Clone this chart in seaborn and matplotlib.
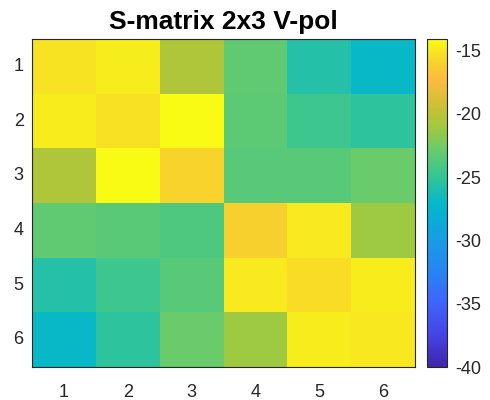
import numpy as np
import pandas as pd
import matplotlib
matplotlib.use("Agg")
import matplotlib.pyplot as plt
from matplotlib.colors import LinearSegmentedColormap
import seaborn as sns

# S-parameter magnitudes (dB), 6x6 port matrix
row_labels = ["1", "2", "3", "4", "5", "6"]
col_labels = ["1", "2", "3", "4", "5", "6"]
row1 = [-15.2, -14.8, -20.5, -23.3, -25.7, -27.0]
row2 = [-14.8, -15.3, -14.1, -23.4, -24.6, -25.3]
row3 = [-20.5, -14.1, -15.9, -23.6, -23.6, -22.9]
row4 = [-23.3, -23.5, -23.9, -16.1, -14.9, -21.1]
row5 = [-25.7, -24.6, -23.6, -14.9, -15.5, -14.8]
row6 = [-27.0, -25.3, -22.9, -21.1, -14.8, -15.0]
cbar_ticks = [-15, -20, -25, -30, -35, -40]

data = pd.DataFrame([row1, row2, row3, row4, row5, row6],
                    index=row_labels, columns=col_labels)

# parula-like colormap
parula_pts = [
    (0.000, (0.2422, 0.1504, 0.6603)),
    (0.100, (0.2750, 0.2700, 0.9100)),
    (0.200, (0.2400, 0.4000, 0.9800)),
    (0.300, (0.1500, 0.5300, 0.9500)),
    (0.385, (0.1000, 0.6100, 0.8900)),
    (0.450, (0.0300, 0.6800, 0.8400)),
    (0.500, (0.0300, 0.7200, 0.7800)),
    (0.580, (0.2000, 0.7700, 0.5900)),
    (0.670, (0.4300, 0.8000, 0.4000)),
    (0.740, (0.6500, 0.7850, 0.2400)),
    (0.780, (0.7600, 0.7600, 0.2100)),
    (0.875, (0.9900, 0.7300, 0.2500)),
    (0.940, (0.9700, 0.8400, 0.1600)),
    (1.000, (0.9769, 0.9839, 0.0805)),
]
parula = LinearSegmentedColormap.from_list("parula", parula_pts, N=256)

sns.set_theme(style="white")
plt.rcParams["font.family"] = ["Liberation Sans", "DejaVu Sans"]
plt.rcParams["axes.unicode_minus"] = False

dark = (0.15, 0.15, 0.15)
fig = plt.figure(figsize=(4.9, 4.0), dpi=100)
ax = fig.add_axes([32 / 490, 33 / 400, 383 / 490, 328 / 400])
cax = fig.add_axes([427 / 490, 33 / 400, 20 / 490, 328 / 400])

sns.heatmap(data, ax=ax, cbar_ax=cax, cmap=parula,
            vmin=-40, vmax=float(data.values.max()),
            linewidths=0, cbar_kws={"ticks": cbar_ticks})

ax.set_title("S-matrix 2x3 V-pol", fontsize=19, fontweight="bold",
             color="black", pad=7)
ax.set_xlabel("")
ax.set_ylabel("")
ax.set_yticklabels(row_labels, rotation=0)
ax.set_xticklabels(col_labels, rotation=0)
for sp in ax.spines.values():
    sp.set_visible(True)
    sp.set_color(dark)
    sp.set_linewidth(0.8)
ax.tick_params(direction="in", length=3, width=0.6, color=dark,
               labelsize=13, labelcolor=dark, top=True, right=True,
               bottom=True, left=True)
ax.tick_params(axis="x", pad=12)
ax.tick_params(axis="y", pad=6)

cb = ax.collections[0].colorbar
cb.outline.set_visible(True)
cb.outline.set_linewidth(0.8)
cb.outline.set_edgecolor(dark)
cax.tick_params(direction="in", length=3, width=0.6, color=dark,
                labelsize=13, labelcolor=dark, right=True, left=False, pad=6)

fig.savefig("out.png", dpi=100)
